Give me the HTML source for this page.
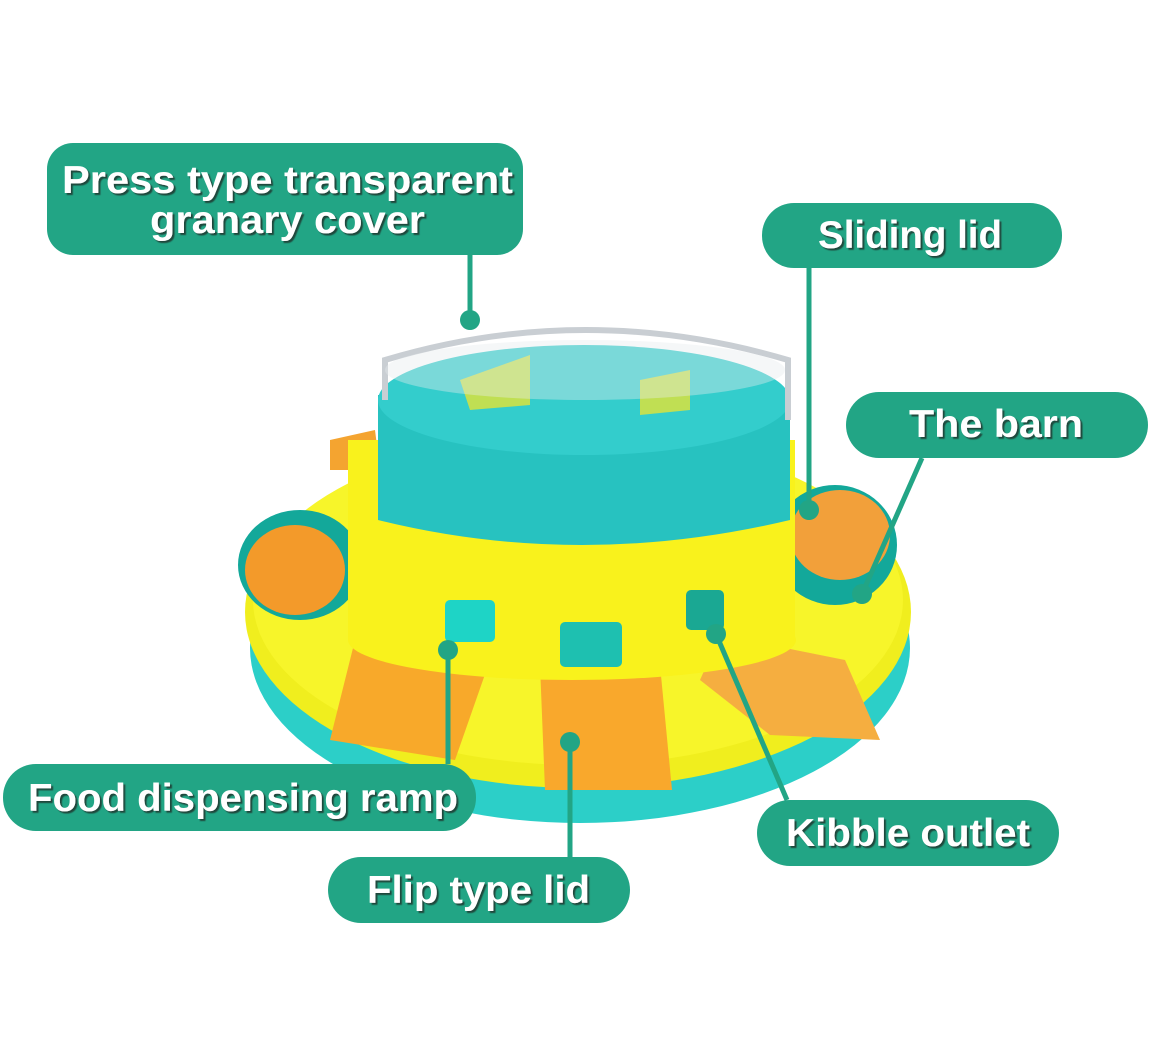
<!DOCTYPE html>
<html><head><meta charset="utf-8"><style>
html,body{margin:0;padding:0;background:#fff;}
svg{display:block}
text{font-family:"Liberation Sans",sans-serif;font-weight:bold;fill:#fff;}
</style></head><body>
<svg width="1170" height="1056" viewBox="0 0 1170 1056" xmlns="http://www.w3.org/2000/svg">
<defs>
<filter id="sh"><feDropShadow dx="2" dy="2" stdDeviation="0.6" flood-color="#1b3d35" flood-opacity="0.9"/></filter>
</defs>
<rect width="1170" height="1056" fill="#fff"/>
<!-- base -->
<ellipse cx="580" cy="648" rx="330" ry="175" fill="#2ccfc8"/>
<ellipse cx="578" cy="612" rx="333" ry="176" fill="#f0ee1e"/>
<ellipse cx="578" cy="600" rx="325" ry="165" fill="#f7f52a"/>
<!-- holes & pads -->
<ellipse cx="300" cy="565" rx="62" ry="55" fill="#13a89a"/>
<ellipse cx="295" cy="570" rx="50" ry="45" fill="#f39a2a"/>
<ellipse cx="835" cy="545" rx="62" ry="60" fill="#13a89a"/>
<ellipse cx="840" cy="535" rx="50" ry="45" fill="#f2a03a"/>
<polygon points="330,440 375,430 380,470 330,470" fill="#f4a430"/>
<!-- ramps -->
<polygon points="355,640 490,660 455,760 330,740" fill="#f8a92a"/>
<polygon points="540,665 660,665 672,790 545,790" fill="#f9a82c"/>
<polygon points="720,635 845,660 880,740 770,735 700,680" fill="#f5ae40"/>
<!-- central cylinder -->
<path d="M348,440 L348,640 Q580,700 795,640 L795,440 Z" fill="#f9f21c"/>
<ellipse cx="572" cy="640" rx="224" ry="40" fill="#f9f21c"/>
<rect x="445" y="600" width="50" height="42" rx="5" fill="#1ed4c6"/>
<rect x="560" y="622" width="62" height="45" rx="5" fill="#1ec0b0"/>
<rect x="686" y="590" width="38" height="40" rx="5" fill="#1aa893"/>
<!-- teal container -->
<path d="M378,395 L378,520 Q580,570 790,520 L790,395 Z" fill="#27c2c0"/>
<ellipse cx="584" cy="400" rx="206" ry="55" fill="#33cdcc"/>
<polygon points="460,380 530,355 530,405 470,410" fill="#e3e435" opacity="0.8"/>
<polygon points="640,380 690,370 690,410 640,415" fill="#e3e435" opacity="0.8"/>
<!-- transparent dome -->
<path d="M385,400 L385,360 Q585,300 788,360 L788,420" fill="none" stroke="#c9ced3" stroke-width="6"/>
<ellipse cx="585" cy="370" rx="200" ry="30" fill="#e7eaee" opacity="0.4"/>
<!-- connectors -->
<g stroke="#22a585" stroke-width="5" fill="none">
<line x1="470" y1="255" x2="470" y2="320"/>
<line x1="809" y1="268" x2="809" y2="510"/>
<line x1="922" y1="458" x2="862" y2="594"/>
<line x1="448" y1="764" x2="448" y2="650"/>
<line x1="570" y1="857" x2="570" y2="742"/>
<line x1="787" y1="800" x2="716" y2="634"/>
</g>
<g fill="#22a585">
<circle cx="470" cy="320" r="10"/>
<circle cx="809" cy="510" r="10"/>
<circle cx="862" cy="594" r="10"/>
<circle cx="448" cy="650" r="10"/>
<circle cx="570" cy="742" r="10"/>
<circle cx="716" cy="634" r="10"/>
</g>
<!-- labels -->
<g fill="#22a585">
<rect x="47" y="143" width="476" height="112" rx="26"/>
<rect x="762" y="203" width="300" height="65" rx="32"/>
<rect x="846" y="392" width="302" height="66" rx="33"/>
<rect x="3" y="764" width="473" height="67" rx="33"/>
<rect x="757" y="800" width="302" height="66" rx="33"/>
<rect x="328" y="857" width="302" height="66" rx="33"/>
</g>
<g filter="url(#sh)" font-size="39">
<text x="62" y="193" textLength="451" lengthAdjust="spacingAndGlyphs">Press type transparent</text>
<text x="150" y="233" textLength="275" lengthAdjust="spacingAndGlyphs">granary cover</text>
<text x="818" y="248" textLength="184" lengthAdjust="spacingAndGlyphs">Sliding lid</text>
<text x="909" y="437" textLength="174" lengthAdjust="spacingAndGlyphs">The barn</text>
<text x="28" y="811" textLength="430" lengthAdjust="spacingAndGlyphs">Food dispensing ramp</text>
<text x="786" y="846" textLength="244" lengthAdjust="spacingAndGlyphs">Kibble outlet</text>
<text x="367" y="903" textLength="223" lengthAdjust="spacingAndGlyphs">Flip type lid</text>
</g>
</svg>
</body></html>
